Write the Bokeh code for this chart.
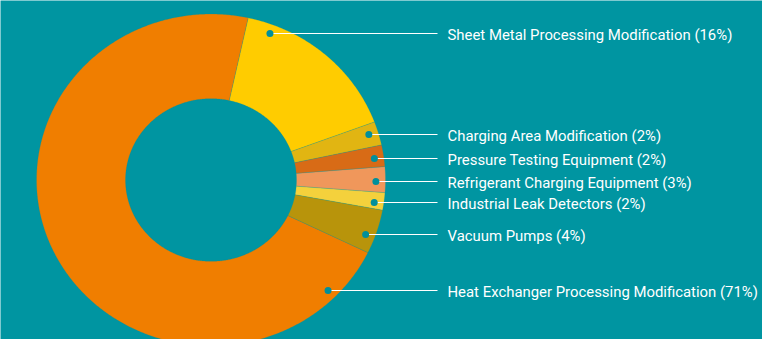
import math
import numpy as np
from bokeh.plotting import figure
from bokeh.models import ColumnDataSource, Range1d
from bokeh.core.properties import value
from bokeh.embed import file_html
from bokeh.resources import INLINE

# Budget split of the refrigeration line upgrade (share of total, %)
categories = [
    "Sheet Metal Processing Modification",
    "Charging Area Modification",
    "Pressure Testing Equipment",
    "Refrigerant Charging Equipment",
    "Industrial Leak Detectors",
    "Vacuum Pumps",
    "Heat Exchanger Processing Modification",
]
shares = [15.9, 2.3, 2.1, 2.5, 1.7, 4.3, 71.2]
colors = ["#FFCC00", "#E1B512", "#D86B16", "#F0975B", "#F4D13C", "#B8940B", "#F07E00"]

# ---- layout ----
W, H = 762, 339
BG = "#0095A1"
DOT = "#008F9B"
CX, CY = 210.5, 179.5      # ring centre, px from top-left
RX, RY = 174.5, 166.0      # outer ring radii, px
INNER = 0.49               # hole size relative to outer radius
START_DEG = 12.3           # first slice starts this far clockwise from 12 o'clock
DOT_R = 0.945              # anchor dots sit on this fraction of the outer radius
label_rows = [33, 134, 158, 181, 202, 234, 290]   # label rows, px from top
LEADER_END_PX = 437
TEXT_PX = 447

# data space: unit ring centred at (0, 0), scaled differently along x and y
p = figure(
    width=W, height=H,
    x_range=Range1d(-CX / RX, (W - CX) / RX),
    y_range=Range1d(-(H - CY) / RY, CY / RY),
    x_axis_type=None, y_axis_type=None,
    output_backend="svg", toolbar_location=None,
    min_border=0, outline_line_color=None,
    background_fill_color=BG, border_fill_color=BG,
)
p.grid.visible = False

# ring slices as polygons
total = sum(shares)
xs, ys = [], []
a = START_DEG
for s in shares:
    sweep = s / total * 360.0
    t = np.radians(np.linspace(a, a + sweep, max(int(sweep * 2), 4)))
    ox, oy = np.sin(t), np.cos(t)
    xs.append(np.concatenate([ox, INNER * ox[::-1]]).tolist())
    ys.append(np.concatenate([oy, INNER * oy[::-1]]).tolist())
    a += sweep

p.patches(xs="xs", ys="ys", fill_color="color", line_color=BG, line_alpha=0.35,
          line_width=0.6, source=ColumnDataSource(dict(xs=xs, ys=ys, color=colors)))

# labels with leader lines
pct = [math.floor(s / total * 100 + 0.5) for s in shares]
texts = [f"{c} ({v}%)" for c, v in zip(categories, pct)]
ly = [(CY - r) / RY for r in label_rows]
lx = [math.sqrt(max(DOT_R ** 2 - y ** 2, 0.0)) for y in ly]
x_end = (LEADER_END_PX - CX) / RX
x_text = (TEXT_PX - CX) / RX
ty = [y - 1.0 / RY for y in ly]   # text sits a hair below its leader

lab = ColumnDataSource(dict(x=lx, y=ly, ty=ty, xe=[x_end] * len(ly), xt=[x_text] * len(ly), text=texts))
p.segment(x0="x", y0="y", x1="xe", y1="y", line_color="white", line_width=1, source=lab)
p.scatter(x="x", y="y", size=7, fill_color=DOT, line_color=None, source=lab)
p.text(x="xt", y="ty", text="text", source=lab, text_align="left", text_baseline="middle",
       text_color="white", text_font=value("Roboto"), text_font_size="14.9px")

open("out.html", "w").write(file_html(p, INLINE))
